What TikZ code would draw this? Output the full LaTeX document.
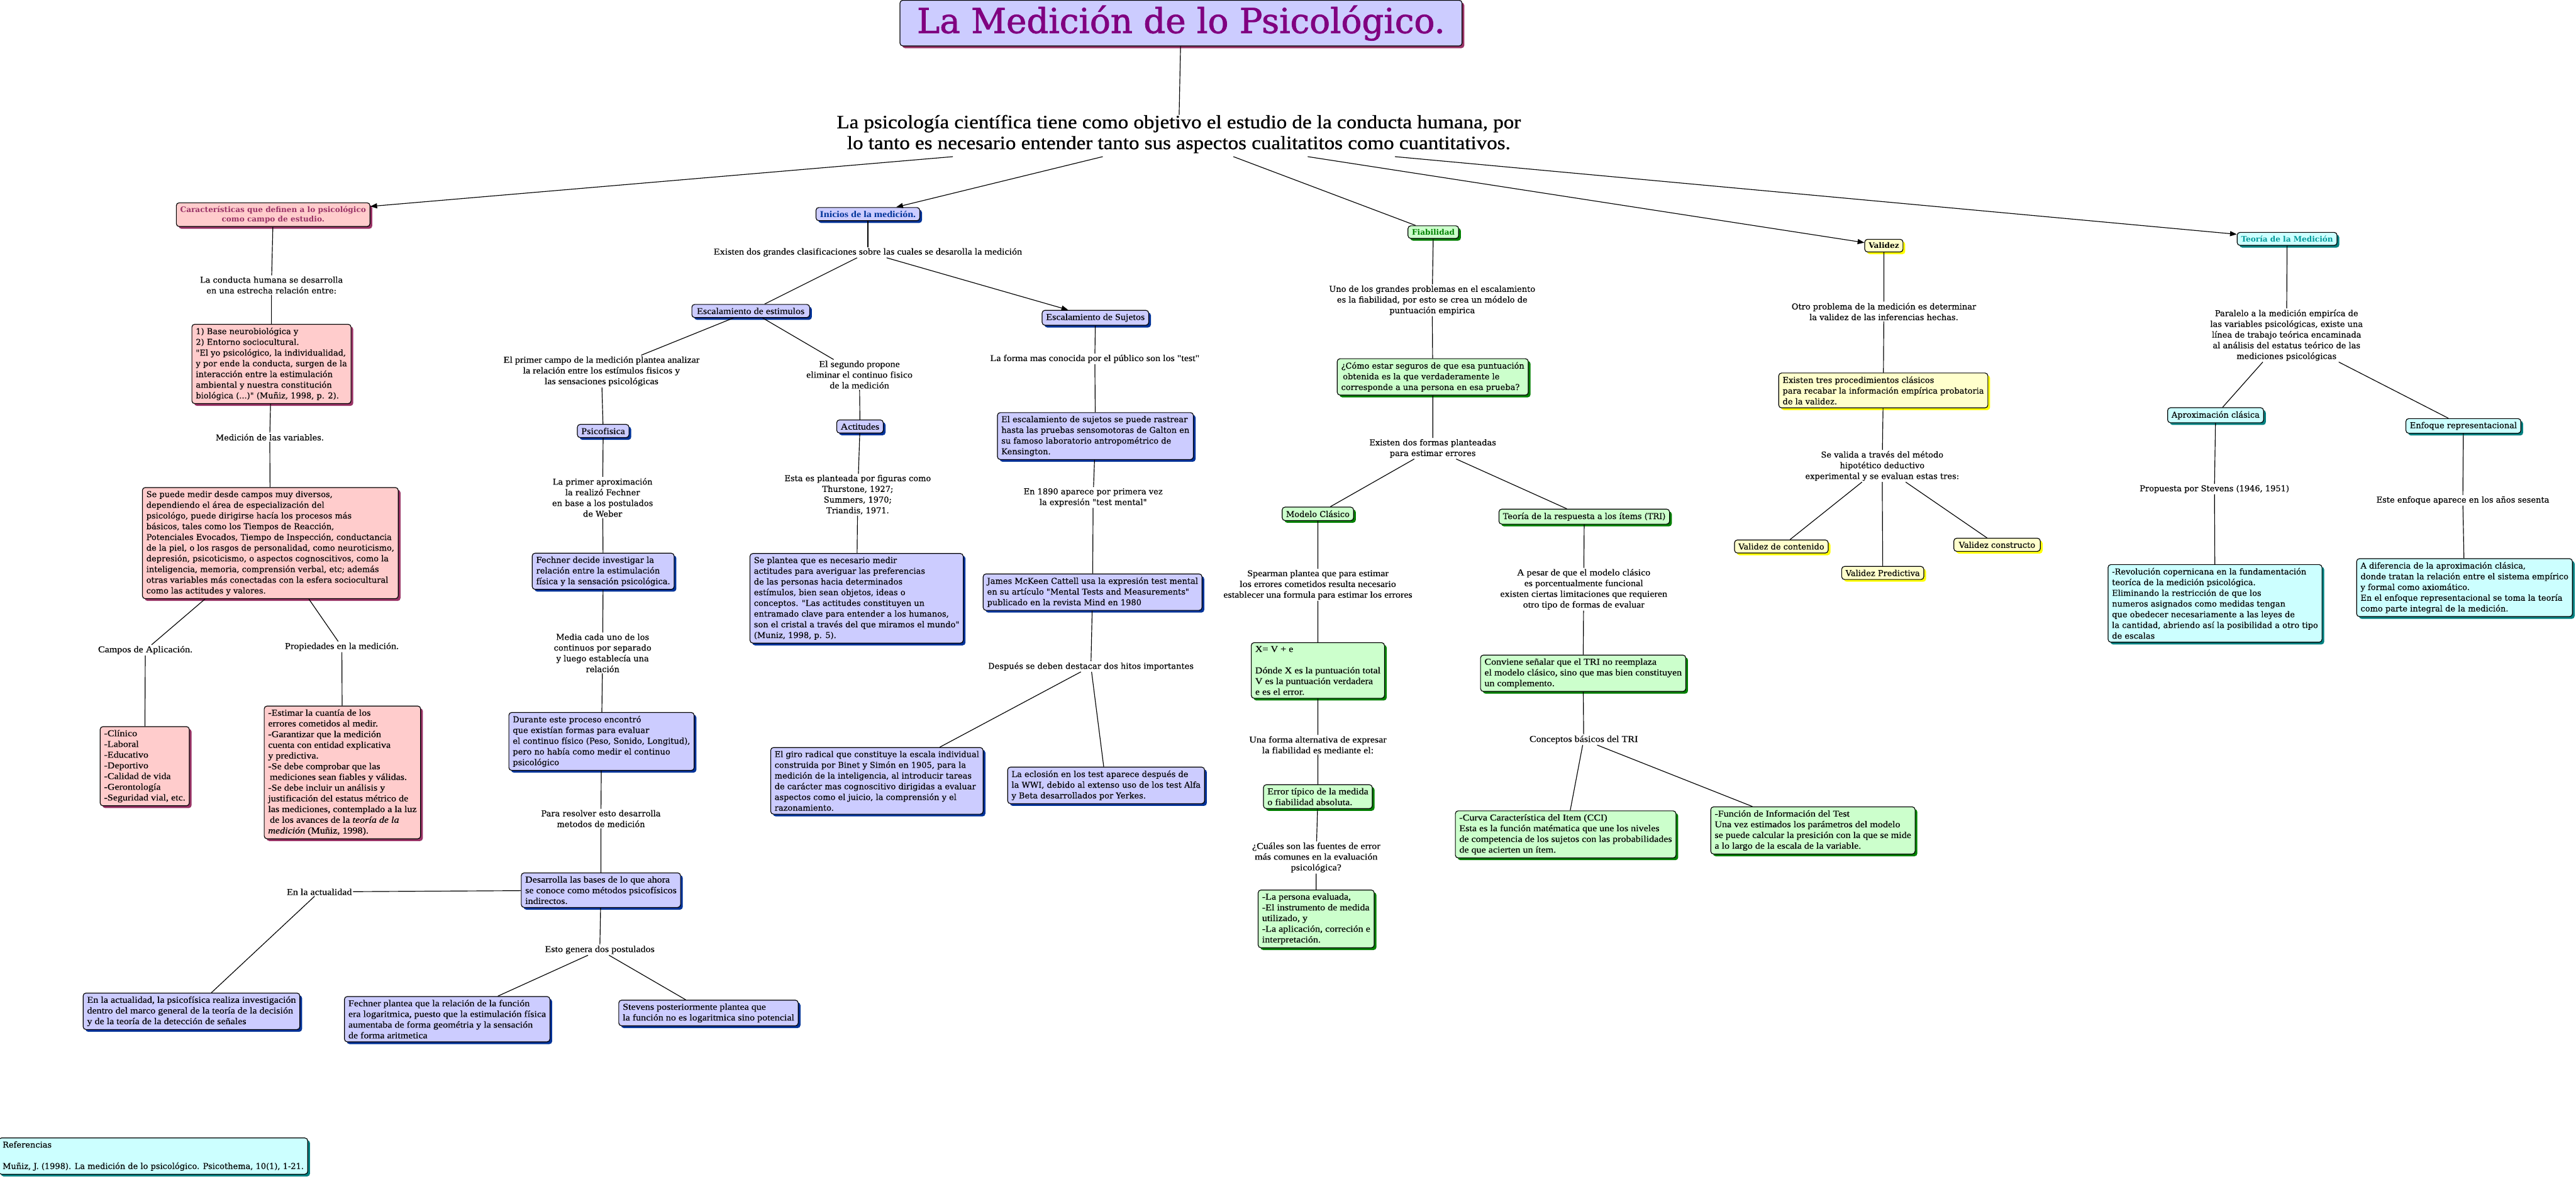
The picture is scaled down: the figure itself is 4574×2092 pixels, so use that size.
\documentclass[tikz,border=0pt]{standalone}
\usepackage{fontspec}
\setmainfont{Liberation Serif}
\usetikzlibrary{shadows,arrows.meta}
\newfontfamily\fWfam{DejaVu Serif}[FakeBold=0.3]
\newfontfamily\fWBfam{DejaVu Serif}
\newfontfamily\fCfam{Liberation Serif}[FakeStretch=1.12,FakeBold=0.3]
\newfontfamily\fCBfam{Liberation Serif}[FakeStretch=1.12]
\newfontfamily\fMainfam{Liberation Serif}[FakeStretch=1.1,FakeBold=1]
\newfontfamily\fTitlefam{DejaVu Serif}[FakeBold=1.5]
\newcommand\fW{\fWfam\fontsize{14.5}{19}\selectfont}
\newcommand\fC{\fCfam\fontsize{16}{19}\selectfont}
\newcommand\fMain{\fMainfam\fontsize{33.5}{37}\selectfont}
\newcommand\fTitle{\fTitlefam\fontsize{61}{66}\selectfont}
\newcommand\fWB{\fWBfam\bfseries\fontsize{13.5}{16.5}\selectfont}
\newcommand\fCB{\fCBfam\bfseries\fontsize{16}{19}\selectfont}
\definecolor{pinkF}{HTML}{FFCCCC}
\definecolor{pinkS}{HTML}{993366}
\definecolor{lavF}{HTML}{CCCCFF}
\definecolor{lavS}{HTML}{003399}
\definecolor{grnF}{HTML}{CCFFCC}
\definecolor{grnS}{HTML}{008000}
\definecolor{yelF}{HTML}{FFFFCC}
\definecolor{yelS}{HTML}{FFFF00}
\definecolor{cyanF}{HTML}{CCFFFF}
\definecolor{cyanS}{HTML}{008080}
\definecolor{cyanT}{HTML}{009999}
\definecolor{titleT}{HTML}{800080}
\tikzset{
 bx/.style={draw=black, line width=1.3pt, rounded corners=5pt, inner xsep=7pt, inner ysep=6pt, align=left},
 sh/.style={drop shadow={shadow xshift=4pt, shadow yshift=-4pt, fill=#1, opacity=1}},
 pinkbox/.style={bx, fill=pinkF, sh=pinkS},
 lavbox/.style={bx, fill=lavF, sh=lavS},
 grnbox/.style={bx, fill=grnF, sh=grnS},
 yelbox/.style={bx, fill=yelF, sh=yelS},
 cyanbox/.style={bx, fill=cyanF, sh=cyanS},
 lbl/.style={inner sep=2pt, align=center},
 wf/.style={font=\fW},
 cf/.style={font=\fC},
 link/.style={draw=black, line width=1.3pt},
 arr/.style={link, -{Triangle[length=12pt,width=9pt]}},
}
\begin{document}
\begin{tikzpicture}[x=1pt,y=-1pt]
\useasboundingbox (0,0) rectangle (4574,2092);
\fill[white] (0,0) rectangle (4574,2092);

% ---------- title ----------
\node[bx, fill=lavF, sh=pinkS, minimum width=998pt, minimum height=81pt, align=center, text=titleT, font=\fTitle, inner ysep=0pt] (TT) at (2097,41) {La Medición de lo Psicológico.};
\node[inner sep=0pt, align=center, font=\fMain] (MT) at (2093,238) {La psicología científica tiene como objetivo el estudio de la conducta humana, por\\lo tanto es necesario entender tanto sus aspectos cualitatitos como cuantitativos.};
\coordinate (m1) at ([xshift=-401pt, yshift=-6pt]MT.south);
\coordinate (m2) at ([xshift=-135pt, yshift=-6pt]MT.south);
\coordinate (m3) at ([xshift=97pt, yshift=-6pt]MT.south);
\coordinate (m4) at ([xshift=229pt, yshift=-6pt]MT.south);
\coordinate (m5) at ([xshift=384pt, yshift=-6pt]MT.south);

% ---------- left (pink) ----------
\node[pinkbox, align=center, font=\fWB, text=pinkS] (A) at (485,381) {Características que definen a lo psicológico\\como campo de estudio.};
\node[lbl, wf] (l1) at (482,506) {La conducta humana se desarrolla\\en una estrecha relación entre:};
\node[pinkbox, wf] (B) at (482,646) {1) Base neurobiológica y\\2) Entorno sociocultural.\\"El yo psicológico, la individualidad,\\y por ende la conducta, surgen de la\\interacción entre la estimulación\\ambiental y nuestra constitución\\biológica (...)" (Muñiz, 1998, p. 2).};
\node[lbl, wf] (l2) at (479,776) {Medición de las variables.};
\node[pinkbox, wf] (C) at (480,964) {Se puede medir desde campos muy diversos,\\dependiendo el área de especialización del\\psicológo, puede dirigirse hacía los procesos más\\básicos, tales como los Tiempos de Reacción,\\Potenciales Evocados, Tiempo de Inspección, conductancia\\de la piel, o los rasgos de personalidad, como neuroticismo,\\depresión, psicoticismo, o aspectos cognoscitivos, como la\\inteligencia, memoria, comprensión verbal, etc; además\\otras variables más conectadas con la esfera sociocultural\\como las actitudes y valores.};
\node[lbl, cf] (l3) at (258,1154) {Campos de Aplicación.};
\node[lbl, cf] (l4) at (607,1148) {Propiedades en la medición.};
\node[pinkbox, cf] (D) at (257,1360) {-Clínico\\-Laboral\\-Educativo\\-Deportivo\\-Calidad de vida\\-Gerontología\\-Seguridad vial, etc.};
\node[pinkbox, cf] (E) at (608,1371) {-Estimar la cuantía de los\\errores cometidos al medir.\\-Garantizar que la medición\\cuenta con entidad explicativa\\y predictiva.\\-Se debe comprobar que las\\\hspace*{3pt}mediciones sean fiables y válidas.\\-Se debe incluir un análisis y\\justificación del estatus métrico de\\las mediciones, contemplado a la luz\\\hspace*{3pt}de los avances de la \textit{teoría de la}\\\textit{medición} (Muñiz, 1998).};

% ---------- Inicios (lavender) ----------
\node[lavbox, font=\fCB, text=lavS] (I) at (1541,380) {Inicios de la medición.};
\node[lbl, cf] (i1) at (1541,448) {Existen dos grandes clasificaciones sobre las cuales se desarolla la medición};
\node[lavbox, cf, inner xsep=9pt] (ES) at (1333,552) {Escalamiento de estimulos};
\node[lavbox, cf] (SU) at (1945,564) {Escalamiento de Sujetos};
\node[lbl, cf] (i2) at (1068,659) {El primer campo de la medición plantea analizar\\la relación entre los estímulos fisicos y\\las sensaciones psicológicas};
\node[lbl, cf] (i3) at (1526,665) {El segundo propone\\eliminar el continuo fisico\\de la medición};
\node[lbl, cf] (i4) at (1944,637) {La forma mas conocida por el público son los "test"};
\node[lavbox, cf] (PF) at (1071,765) {Psicofisica};
\node[lavbox, cf] (AC) at (1527,757) {Actitudes};
\node[lavbox, wf] (ESB) at (1945,774) {El escalamiento de sujetos se puede rastrear\\hasta las pruebas sensomotoras de Galton en\\su famoso laboratorio antropométrico de\\Kensington.};
\node[lbl, wf] (i5) at (1070,883) {La primer aproximación\\la realizó Fechner\\en base a los postulados\\de Weber};
\node[lbl, wf] (i6) at (1523,878) {Esta es planteada por figuras como\\Thurstone, 1927;\\Summers, 1970;\\Triandis, 1971.};
\node[lbl, wf] (i7) at (1941,883) {En 1890 aparece por primera vez\\la expresión "test mental"};
\node[lavbox, wf] (FD) at (1071,1014) {Fechner decide investigar la\\relación entre la estimulación\\física y la sensación psicológica.};
\node[lavbox, wf] (SP) at (1521,1062) {Se plantea que es necesario medir\\actitudes para averiguar las preferencias\\de las personas hacia determinados\\estímulos, bien sean objetos, ideas o\\conceptos. "Las actitudes constituyen un\\entramado clave para entender a los humanos,\\son el cristal a través del que miramos el mundo"\\(Muniz, 1998, p. 5).};
\node[lavbox, wf] (JM) at (1940,1051) {James McKeen Cattell usa la expresión test mental\\en su artículo "Mental Tests and Measurements"\\publicado en la revista Mind en 1980};
\node[lbl, wf] (i8) at (1070,1159) {Media cada uno de los\\continuos por separado\\y luego establecía una\\relación};
\node[lbl, wf] (i9) at (1937,1183) {Después se deben destacar dos hitos importantes};
\node[lavbox, wf] (DU) at (1068,1316) {Durante este proceso encontró\\que existían formas para evaluar\\el continuo físico (Peso, Sonido, Longitud),\\pero no había como medir el continuo\\psicológico};
\node[lavbox, wf] (GI) at (1557,1386) {El giro radical que constituye la escala individual\\construida por Binet y Simón en 1905, para la\\medición de la inteligencia, al introducir tareas\\de carácter mas cognoscitivo dirigidas a evaluar\\aspectos como el juicio, la comprensión y el\\razonamiento.};
\node[lavbox, wf] (EC) at (1964,1394) {La eclosión en los test aparece después de\\la WWI, debido al extenso uso de los test Alfa\\y Beta desarrollados por Yerkes.};
\node[lbl, wf] (i10) at (1067,1453) {Para resolver esto desarrolla\\metodos de medición};
\node[lavbox, cf] (DE) at (1067,1580) {Desarrolla las bases de lo que ahora\\se conoce como métodos psicofísicos\\indirectos.};
\node[lbl, cf] (i11) at (567,1583) {En la actualidad};
\node[lbl, cf] (i12) at (1065,1686) {Esto genera dos postulados};
\node[lavbox, cf] (AB) at (340,1795) {En la actualidad, la psicofísica realiza investigación\\dentro del marco general de la teoría de la decisión\\y de la teoría de la detección de señales};
\node[lavbox, cf] (FP) at (794,1809) {Fechner plantea que la relación de la función\\era logaritmica, puesto que la estimulación física\\aumentaba de forma geométria y la sensación\\de forma aritmetica};
\node[lavbox, cf] (ST) at (1258,1798) {Stevens posteriormente plantea que\\la función no es logaritmica sino potencial};

% ---------- Fiabilidad (green) ----------
\node[grnbox, font=\fWB, text=grnS] (F) at (2545,412) {Fiabilidad};
\node[lbl, wf] (f1) at (2543,533) {Uno de los grandes problemas en el escalamiento\\es la fiabilidad, por esto se crea un módelo de\\puntuación empirica};
\node[grnbox, wf] (FC) at (2544,669) {¿Cómo estar seguros de que esa puntuación\\\hspace*{3pt}obtenida es la que verdaderamente le\\corresponde a una persona en esa prueba?};
\node[lbl, wf] (f2) at (2544,796) {Existen dos formas planteadas\\para estimar errores};
\node[grnbox, wf] (MC) at (2340,912) {Modelo Clásico};
\node[grnbox, wf] (TR) at (2813,917) {Teoría de la respuesta a los ítems (TRI)};
\node[lbl, cf] (f3) at (2340,1038) {Spearman plantea que para estimar\\los errores cometidos resulta necesario\\establecer una formula para estimar los errores};
\node[lbl, cf] (f4) at (2812,1046) {A pesar de que el modelo clásico\\es porcentualmente funcional\\existen ciertas limitaciones que requieren\\otro tipo de formas de evaluar};
\node[grnbox, cf] (XV) at (2340,1190) {X= V + e\\[19pt]Dónde X es la puntuación total\\V es la puntuación verdadera\\e es el error.};
\node[grnbox, cf] (CO) at (2811,1195) {Conviene señalar que el TRI no reemplaza\\el modelo clásico, sino que mas bien constituyen\\un complemento.};
\node[lbl, cf] (f5) at (2340,1322) {Una forma alternativa de expresar\\la fiabilidad es mediante el:};
\node[lbl, cf] (f6) at (2812,1313) {Conceptos básicos del TRI};
\node[grnbox, cf] (ET) at (2340,1414) {Error típico de la medida\\o fiabilidad absoluta.};
\node[grnbox, cf] (CU) at (2780,1481) {-Curva Característica del Item (CCI)\\Esta es la función matématica que une los niveles\\de competencia de los sujetos con las probabilidades\\de que acierten un ítem.};
\node[grnbox, cf] (FU) at (3219,1474) {-Función de Información del Test\\Una vez estimados los parámetros del modelo\\se puede calcular la presición con la que se mide\\a lo largo de la escala de la variable.};
\node[lbl, cf] (f7) at (2337,1522) {¿Cuáles son las fuentes de error\\más comunes en la evaluación\\psicológica?};
\node[grnbox, cf] (LP) at (2337,1631) {-La persona evaluada,\\-El instrumento de medida\\utilizado, y\\-La aplicación, correción e\\interpretación.};

% ---------- Validez (yellow) ----------
\node[yelbox, font=\fWB] (V) at (3345,436) {Validez};
\node[lbl, wf] (v1) at (3345,553) {Otro problema de la medición es determinar\\la validez de las inferencias hechas.};
\node[yelbox, wf] (VT) at (3344,693) {Existen tres procedimientos clásicos\\para recabar la información empírica probatoria\\de la validez.};
\node[lbl, wf] (v2) at (3342,827) {Se valida a través del método\\hipotético deductivo\\experimental y se evaluan estas tres:};
\node[yelbox, wf] (VC) at (3163,970) {Validez de contenido};
\node[yelbox, wf] (VP) at (3343,1017) {Validez Predictiva};
\node[yelbox, wf, inner xsep=9pt] (VK) at (3546,967) {Validez constructo};

% ---------- Teoria (cyan) ----------
\node[cyanbox, font=\fWB, text=cyanT] (T) at (4061,424) {Teoría de la Medición};
\node[lbl, wf] (t1) at (4060,595) {Paralelo a la medición empiríca de\\las variables psicológicas, existe una\\línea de trabajo teórica encaminada\\al análisis del estatus teórico de las\\mediciones psicológicas};
\node[cyanbox, wf] (TA) at (3934,737) {Aproximación clásica};
\node[cyanbox, wf] (TE) at (4374,756) {Enfoque representacional};
\node[lbl, wf] (t2) at (3932,868) {Propuesta por Stevens (1946, 1951)};
\node[lbl, wf] (t3) at (4373,888) {Este enfoque aparece en los años sesenta};
\node[cyanbox, wf] (TR1) at (3933,1071) {-Revolución copernicana en la fundamentación\\teoríca de la medición psicológica.\\Eliminando la restricción de que los\\numeros asignados como medidas tengan\\que obedecer necesariamente a las leyes de\\la cantidad, abriendo así la posibilidad a otro tipo\\de escalas};
\node[cyanbox, wf] (TD) at (4376,1043) {A diferencia de la aproximación clásica,\\donde tratan la relación entre el sistema empírico\\y formal como axiomático.\\En el enfoque representacional se toma la teoría\\como parte integral de la medición.};

% ---------- references ----------
\node[cyanbox, wf] (R) at (272,2052) {Referencias\\[19pt]Muñiz, J. (1998). La medición de lo psicológico. Psicothema, 10(1), 1-21.};

% ---------- connectors ----------
\draw[link] (TT) -- (MT);
\draw[arr] (m1) -- (A);
\draw[arr] (m2) -- (I);
\draw[link] (m3) -- (F);
\draw[arr] (m4) -- (V);
\draw[arr] (m5) -- (T);

\draw[link] (A) -- (l1) -- (B);
\draw[link] (B) -- (l2) -- (C);
\draw[link] (C) -- (l3) -- (D);
\draw[link] (C) -- (l4) -- (E);

\draw[link] (I) -- (i1);
\draw[link] (i1) -- (ES);
\draw[arr] (i1) -- (SU);
\draw[link] (ES) -- (i2) -- (PF);
\draw[link] (ES) -- (i3) -- (AC);
\draw[link] (SU) -- (i4) -- (ESB);
\draw[link] (PF) -- (i5) -- (FD);
\draw[link] (AC) -- (i6) -- (SP);
\draw[link] (ESB) -- (i7) -- (JM);
\draw[link] (FD) -- (i8) -- (DU);
\draw[link] (JM) -- (i9);
\draw[link] (i9) -- (GI);
\draw[link] (i9) -- (EC);
\draw[link] (DU) -- (i10) -- (DE);
\draw[link] (DE) -- (i11) -- (AB);
\draw[link] (DE) -- (i12);
\draw[link] (i12) -- (FP);
\draw[link] (i12) -- (ST);

\draw[link] (F) -- (f1) -- (FC) -- (f2);
\draw[link] (f2) -- (MC);
\draw[link] (f2) -- (TR);
\draw[link] (MC) -- (f3) -- (XV) -- (f5) -- (ET) -- (f7) -- (LP);
\draw[link] (TR) -- (f4) -- (CO) -- (f6);
\draw[link] (f6) -- (CU);
\draw[link] (f6) -- (FU);

\draw[link] (V) -- (v1) -- (VT) -- (v2);
\draw[link] (v2) -- (VC);
\draw[link] (v2) -- (VP);
\draw[link] (v2) -- (VK);

\draw[link] (T) -- (t1);
\draw[link] (t1) -- (TA);
\draw[link] (t1) -- (TE);
\draw[link] (TA) -- (t2) -- (TR1);
\draw[link] (TE) -- (t3) -- (TD);
\end{tikzpicture}
\end{document}
